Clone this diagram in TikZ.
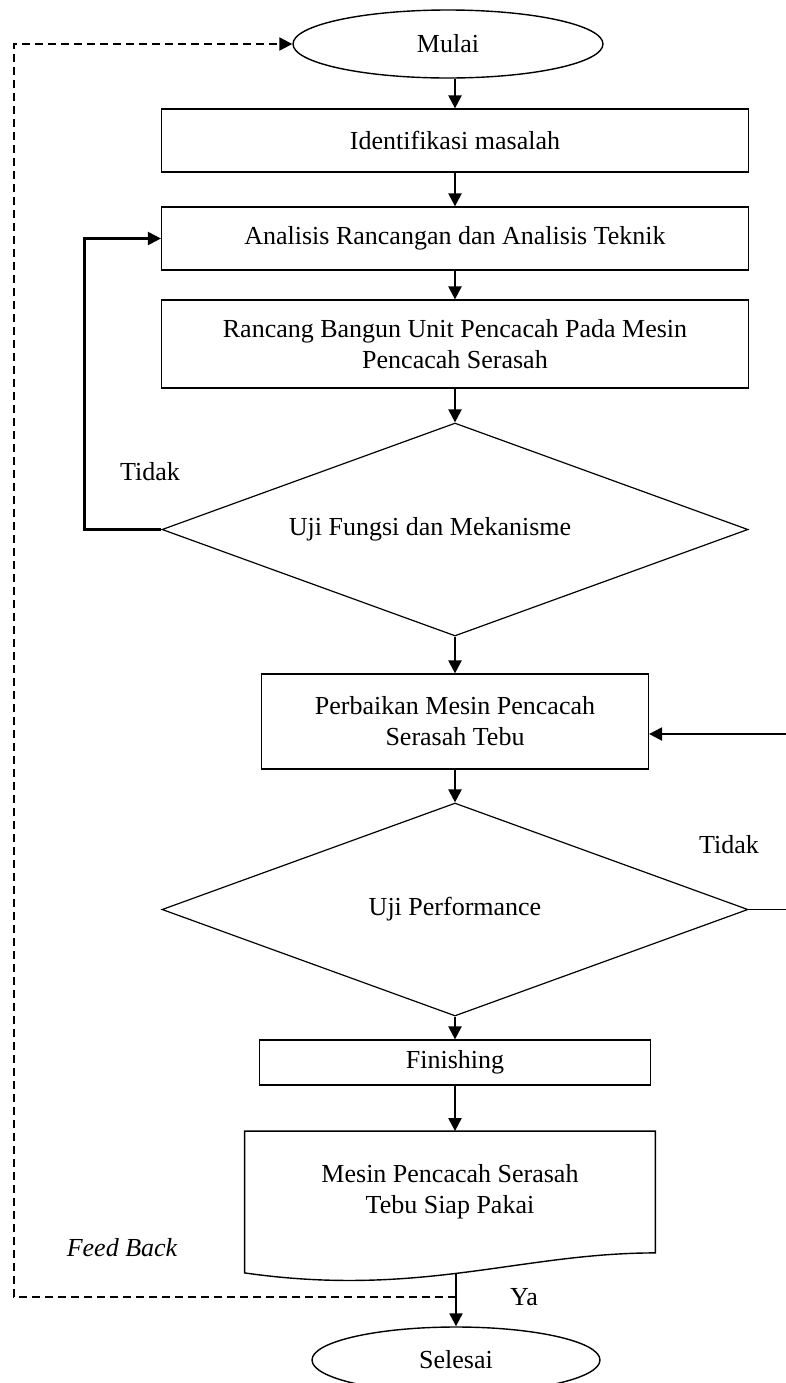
\documentclass[tikz,border=0pt]{standalone}
\usepackage{fontspec}
\setmainfont{Liberation Serif}
\usetikzlibrary{shapes.geometric,arrows.meta,calc,positioning}
\definecolor{ink}{HTML}{000000}
\tikzset{
  term/.style={ellipse,draw=ink,line width=0.7pt,inner sep=0pt},
  proc/.style={rectangle,draw=ink,line width=0.6pt,align=center,inner sep=0pt},
  dec/.style={diamond,draw=ink,line width=0.6pt,shape aspect=2.75,inner sep=0pt},
  conn/.style={ink,line width=1.1pt,-{Triangle[length=6.5pt,width=6.5pt]}},
  fb/.style={ink,line width=1.1pt,dash pattern=on 4pt off 2.5pt,-{Triangle[length=6.5pt,width=6.5pt]}},
  wire/.style={ink,line width=0.7pt},
  lbl/.style={inner sep=0pt},
}
\begin{document}
\begin{tikzpicture}[x=0.5pt,y=-0.5pt,font=\fontsize{13}{15.5}\selectfont]
  \useasboundingbox (0,0) rectangle (786,1383);
  \node[term,minimum width=155pt,minimum height=34pt] (mulai) at (448,44) {Mulai};
  \node[proc,minimum width=293.5pt,minimum height=31.5pt] (ident) at (455,140.5) {Identifikasi masalah};
  \node[proc,minimum width=293.5pt,minimum height=31.5pt] (anal) at (455,238.5) {Analisis Rancangan dan Analisis Teknik};
  \node[proc,minimum width=293.5pt,minimum height=44pt] (rancang) at (455,344)
    {Rancang Bangun Unit Pencacah Pada Mesin\\Pencacah Serasah};
  \node[dec,minimum width=293pt,minimum height=106.5pt] (ujifungsi) at (455,529.5)
    {Uji Fungsi dan Mekanisme\hspace*{25pt}};
  \node[proc,minimum width=193.5pt,minimum height=47.5pt] (perbaikan) at (455,721.5)
    {Perbaikan Mesin Pencacah\\Serasah Tebu};
  \node[dec,minimum width=293pt,minimum height=106.5pt] (ujiperf) at (455,909.5) {Uji Performance};
  \node[proc,minimum width=195.5pt,minimum height=22.5pt] (finish) at (455,1062.5) {Finishing};
  \node[align=center,inner sep=0pt,minimum width=205pt,minimum height=60.5pt] (siap) at (450,1192)
    {Mesin Pencacah Serasah\\Tebu Siap Pakai};
  \node[term,minimum width=144pt,minimum height=33pt] (selesai) at (456,1360) {Selesai};
  \draw[wire] (siap.south east) .. controls +(-135,0) and +(175,25) .. ($(siap.south west)+(0,20)$)
    -- (siap.north west) -- (siap.north east) -- cycle;
  \coordinate (docb) at (456,1274);
  \coordinate (fbs) at (456,1297);
  \coordinate (fbl) at (14,1297);
  \coordinate (rt) at (792,734);
  \draw[conn] (mulai.south -| ident.north) -- (ident);
  \draw[conn] (ident) -- (anal);
  \draw[conn] (anal) -- (rancang);
  \draw[conn] (rancang) -- (ujifungsi);
  \draw[conn] (ujifungsi) -- (perbaikan);
  \draw[conn] (perbaikan) -- (ujiperf);
  \draw[conn] (ujiperf) -- (finish);
  \draw[conn] (finish.south) -- (finish.south |- siap.north);
  \draw[conn] (docb) -- (selesai);
  \draw[conn] (ujifungsi.west) -- ++(-77,0) |- (anal.west);
  \draw[wire] (ujiperf.east) -| (rt);
  \draw[conn] (rt) -- (rt -| perbaikan.east);
  \draw[fb] (fbs) -- (fbl) |- (mulai.west);
  \node[lbl] (tidaka) at (150,472) {Tidak};
  \node[lbl] (tidakb) at (729,845) {Tidak};
  \node[lbl] (ya) at (524,1297) {Ya};
  \node[lbl,font=\fontsize{13}{15.5}\selectfont\itshape] (feedback) at (122,1248) {Feed Back};
\end{tikzpicture}
\end{document}
